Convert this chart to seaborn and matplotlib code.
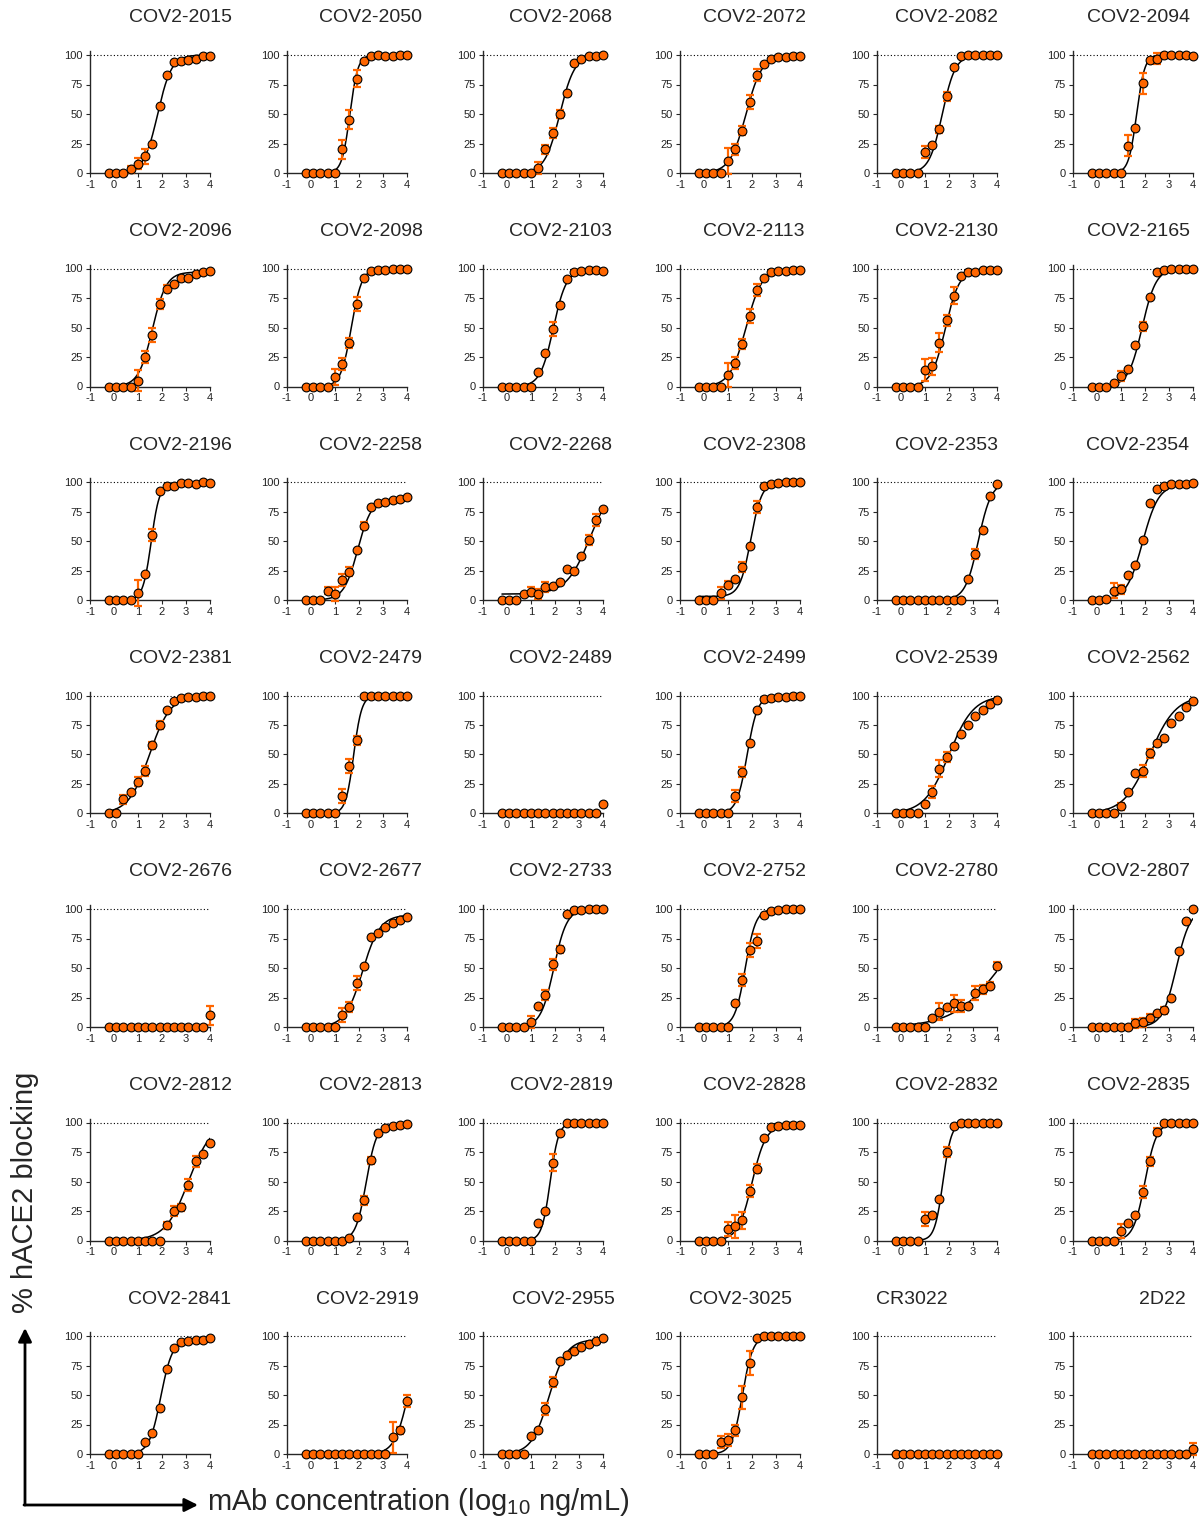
import numpy as np
import pandas as pd
import matplotlib
matplotlib.use('Agg')
import matplotlib.pyplot as plt
from matplotlib.patches import FancyArrowPatch
import seaborn as sns

# названия антител (по порядку панелей)
names = ["COV2-2015", "COV2-2050", "COV2-2068", "COV2-2072", "COV2-2082", "COV2-2094",
         "COV2-2096", "COV2-2098", "COV2-2103", "COV2-2113", "COV2-2130", "COV2-2165",
         "COV2-2196", "COV2-2258", "COV2-2268", "COV2-2308", "COV2-2353", "COV2-2354",
         "COV2-2381", "COV2-2479", "COV2-2489", "COV2-2499", "COV2-2539", "COV2-2562",
         "COV2-2676", "COV2-2677", "COV2-2733", "COV2-2752", "COV2-2780", "COV2-2807",
         "COV2-2812", "COV2-2813", "COV2-2819", "COV2-2828", "COV2-2832", "COV2-2835",
         "COV2-2841", "COV2-2919", "COV2-2955", "COV2-3025", "CR3022", "2D22"]

# концентрации (log10 нг/мл)
log_conc = [-0.21, 0.09, 0.39, 0.69, 1.0, 1.3, 1.6, 1.9, 2.2, 2.5, 2.8, 3.1, 3.4, 3.7, 4.0]

# средние значения блокирования (%)
blocking = [
    [0, 0, 0, 3, 8, 14, 25, 57, 83, 94, 95, 96, 97, 99, 99],
    [0, 0, 0, 0, 0, 20, 45, 80, 95, 99, 100, 99, 99, 100, 100],
    [0, 0, 0, 0, 0, 4, 20, 34, 50, 68, 93, 97, 99, 99, 100],
    [0, 0, 0, 0, 10, 20, 36, 60, 83, 92, 97, 98, 98, 99, 99],
    [0, 0, 0, 0, 18, 24, 37, 65, 90, 99, 100, 100, 100, 100, 100],
    [0, 0, 0, 0, 0, 23, 38, 76, 96, 97, 100, 100, 100, 100, 99],
    [0, 0, 0, 0, 5, 25, 44, 70, 83, 87, 92, 92, 95, 97, 98],
    [0, 0, 0, 0, 8, 19, 37, 70, 92, 98, 99, 99, 100, 100, 100],
    [0, 0, 0, 0, 0, 12, 28, 49, 69, 91, 97, 98, 99, 99, 98],
    [0, 0, 0, 0, 10, 20, 36, 60, 82, 92, 97, 98, 98, 99, 99],
    [0, 0, 0, 0, 14, 17, 37, 56, 77, 94, 97, 97, 99, 99, 99],
    [0, 0, 0, 3, 9, 15, 35, 51, 76, 97, 99, 100, 100, 100, 100],
    [0, 0, 0, 0, 6, 22, 55, 92, 97, 97, 99, 99, 98, 100, 99],
    [0, 0, 0, 8, 5, 17, 24, 42, 63, 79, 82, 83, 85, 86, 87],
    [0, 0, 0, 5, 7, 5, 11, 12, 15, 26, 25, 37, 51, 68, 77],
    [0, 0, 0, 6, 13, 18, 28, 46, 79, 97, 98, 99, 100, 100, 100],
    [0, 0, 0, 0, 0, 0, 0, 0, 0, 0, 18, 39, 59, 88, 98],
    [0, 0, 1, 8, 9, 21, 30, 51, 82, 94, 97, 98, 98, 98, 99],
    [0, 0, 12, 18, 27, 36, 58, 75, 88, 95, 98, 99, 99, 100, 100],
    [0, 0, 0, 0, 0, 15, 40, 62, 100, 100, 100, 100, 100, 100, 100],
    [0, 0, 0, 0, 0, 0, 0, 0, 0, 0, 0, 0, 0, 0, 8],
    [0, 0, 0, 0, 0, 15, 35, 60, 88, 97, 98, 99, 99, 100, 100],
    [0, 0, 0, 0, 8, 18, 38, 48, 57, 67, 75, 83, 88, 93, 96],
    [0, 0, 0, 0, 6, 18, 34, 36, 51, 60, 64, 77, 83, 90, 95],
    [0, 0, 0, 0, 0, 0, 0, 0, 0, 0, 0, 0, 0, 0, 10],
    [0, 0, 0, 0, 0, 10, 17, 37, 52, 76, 80, 85, 88, 91, 93],
    [0, 0, 0, 0, 4, 18, 27, 53, 66, 96, 99, 99, 100, 100, 100],
    [0, 0, 0, 0, 0, 20, 40, 65, 73, 95, 98, 99, 100, 100, 100],
    [0, 0, 0, 0, 0, 8, 13, 17, 20, 18, 18, 29, 32, 35, 52],
    [0, 0, 0, 0, 0, 0, 3, 4, 8, 12, 14, 25, 64, 90, 100],
    [0, 0, 0, 0, 0, 0, 0, 0, 13, 25, 28, 47, 67, 73, 83],
    [0, 0, 0, 0, 0, 0, 2, 20, 34, 68, 91, 95, 97, 98, 99],
    [0, 0, 0, 0, 0, 15, 25, 66, 91, 100, 100, 100, 100, 100, 100],
    [0, 0, 0, 0, 10, 12, 17, 42, 61, 87, 96, 97, 98, 98, 98],
    [0, 0, 0, 0, 18, 22, 35, 75, 97, 100, 100, 100, 100, 100, 100],
    [0, 0, 0, 0, 8, 15, 22, 41, 67, 92, 100, 100, 100, 100, 100],
    [0, 0, 0, 0, 0, 10, 18, 39, 72, 90, 95, 96, 97, 97, 98],
    [0, 0, 0, 0, 0, 0, 0, 0, 0, 0, 0, 0, 14, 20, 45],
    [0, 0, 0, 0, 15, 20, 38, 61, 79, 84, 87, 91, 93, 96, 98],
    [0, 0, 0, 10, 12, 20, 48, 77, 98, 100, 100, 100, 100, 100, 100],
    [0, 0, 0, 0, 0, 0, 0, 0, 0, 0, 0, 0, 0, 0, 0],
    [0, 0, 0, 0, 0, 0, 0, 0, 0, 0, 0, 0, 0, 0, 4],
]

# стандартные отклонения
errors = [
    [0, 0, 0, 3, 5, 6, 0, 0, 0, 0, 0, 0, 0, 0, 0],
    [0, 0, 0, 0, 0, 8, 8, 7, 0, 0, 0, 0, 0, 0, 0],
    [0, 0, 0, 0, 0, 5, 4, 4, 3, 0, 0, 0, 0, 0, 0],
    [0, 0, 0, 0, 11, 5, 4, 6, 5, 0, 0, 0, 0, 0, 0],
    [0, 0, 0, 0, 5, 0, 3, 4, 0, 0, 0, 0, 0, 0, 0],
    [0, 0, 0, 0, 0, 9, 0, 9, 0, 5, 0, 0, 0, 0, 0],
    [0, 0, 0, 0, 9, 5, 6, 4, 3, 0, 0, 0, 0, 0, 0],
    [0, 0, 0, 0, 7, 5, 4, 6, 0, 0, 0, 0, 0, 0, 0],
    [0, 0, 0, 0, 0, 0, 0, 6, 2, 0, 0, 0, 0, 0, 0],
    [0, 0, 0, 0, 10, 5, 4, 6, 5, 0, 0, 0, 0, 0, 0],
    [0, 0, 0, 0, 9, 7, 8, 5, 7, 0, 0, 0, 0, 0, 0],
    [0, 0, 0, 0, 4, 0, 0, 4, 0, 0, 0, 0, 0, 0, 0],
    [0, 0, 0, 0, 11, 0, 5, 0, 0, 0, 0, 0, 0, 0, 0],
    [0, 0, 0, 3, 6, 5, 4, 0, 3, 0, 0, 0, 0, 0, 0],
    [0, 0, 0, 0, 4, 4, 4, 0, 0, 0, 0, 0, 4, 5, 0],
    [0, 0, 0, 5, 3, 0, 4, 0, 5, 0, 0, 0, 0, 0, 0],
    [0, 0, 0, 0, 0, 0, 0, 0, 0, 0, 0, 4, 0, 0, 0],
    [0, 0, 0, 6, 4, 0, 0, 0, 0, 0, 0, 0, 0, 0, 0],
    [0, 0, 4, 0, 4, 4, 3, 3, 0, 0, 0, 0, 0, 0, 0],
    [0, 0, 0, 0, 0, 6, 6, 4, 0, 0, 0, 0, 0, 0, 0],
    [0, 0, 0, 0, 0, 0, 0, 0, 0, 0, 0, 0, 0, 0, 0],
    [0, 0, 0, 0, 0, 5, 4, 0, 0, 0, 0, 0, 0, 0, 0],
    [0, 0, 0, 0, 0, 5, 7, 4, 0, 0, 0, 0, 0, 0, 0],
    [0, 0, 0, 0, 3, 0, 0, 5, 4, 0, 0, 0, 0, 0, 0],
    [0, 0, 0, 0, 0, 0, 0, 0, 0, 0, 0, 0, 0, 0, 8],
    [0, 0, 0, 0, 0, 6, 4, 6, 0, 0, 0, 0, 0, 0, 0],
    [0, 0, 0, 0, 5, 0, 4, 5, 3, 0, 0, 0, 0, 0, 0],
    [0, 0, 0, 0, 0, 0, 5, 6, 6, 0, 0, 0, 0, 0, 0],
    [0, 0, 0, 0, 0, 0, 7, 0, 7, 5, 0, 6, 4, 3, 3],
    [0, 0, 0, 0, 0, 0, 4, 4, 3, 0, 3, 0, 0, 0, 0],
    [0, 0, 0, 0, 0, 0, 0, 0, 3, 4, 3, 5, 5, 0, 0],
    [0, 0, 0, 0, 0, 0, 0, 0, 4, 3, 0, 0, 0, 0, 0],
    [0, 0, 0, 0, 0, 0, 0, 7, 0, 0, 0, 0, 0, 0, 0],
    [0, 0, 0, 0, 6, 10, 7, 5, 4, 0, 0, 0, 0, 0, 0],
    [0, 0, 0, 0, 6, 0, 0, 4, 0, 0, 0, 0, 0, 0, 0],
    [0, 0, 0, 0, 6, 0, 0, 5, 4, 3, 0, 0, 0, 0, 0],
    [0, 0, 0, 0, 0, 0, 0, 0, 0, 0, 0, 0, 0, 0, 0],
    [0, 0, 0, 0, 0, 0, 0, 0, 0, 0, 0, 0, 13, 3, 5],
    [0, 0, 0, 0, 0, 0, 5, 4, 0, 0, 0, 0, 0, 0, 0],
    [0, 0, 0, 5, 5, 5, 10, 10, 0, 0, 0, 0, 0, 0, 0],
    [0, 0, 0, 0, 0, 0, 0, 0, 0, 0, 0, 0, 0, 0, 0],
    [0, 0, 0, 0, 0, 0, 0, 0, 0, 0, 0, 0, 0, 0, 5],
]

# параметры аппроксимации (низ, верх, logEC50, наклон); None - без кривой
fit_bottom = [0, 0, 0, 0, 0, 0, 0, 0, 0, 0, 0, 0, 0, 0, 5, 3, 0, 0, 0, 0, None, 0,
              0, 0, None, 0, 0, 0, 0, 0, 0, 0, 0, 0, 0, 0, 0, 0, 0, 0, None, None]
fit_top = [100, 100, 100, 100, 100, 100, 97, 100, 99, 100, 99, 100, 99, 86, 100, 100,
           100, 98, 100, 100, None, 100, 100, 100, None, 95, 100, 100, 100, 100, 100,
           99, 100, 98, 100, 100, 97, 100, 97, 100, None, None]
fit_ec50 = [1.82, 1.62, 2.2, 1.75, 1.72, 1.65, 1.6, 1.68, 1.93, 1.75, 1.85, 1.88,
            1.55, 1.95, 3.45, 1.95, 3.22, 1.9, 1.48, 1.78, None, 1.8, 2.0, 2.2,
            None, 2.15, 1.95, 1.72, 4.1, 3.3, 3.1, 2.3, 1.8, 2.0, 1.75, 2.0,
            1.95, 4.05, 1.75, 1.6, None, None]
fit_hill = [1.5, 2.6, 1.4, 1.3, 1.6, 2.6, 1.5, 2.0, 1.6, 1.3, 1.5, 1.5,
            2.5, 1.5, 0.9, 1.9, 1.6, 1.3, 1.0, 2.6, None, 2.0, 0.85, 0.8,
            None, 1.2, 1.6, 2.0, 0.45, 1.5, 0.9, 2.0, 2.5, 1.5, 2.5, 1.8,
            1.8, 1.5, 1.2, 2.0, None, None]

ORANGE = '#FF6600'
W, H = 1201, 1519

sns.set_style('ticks')
plt.rcParams['font.family'] = ['Liberation Sans', 'DejaVu Sans']
plt.rcParams['mathtext.fontset'] = 'custom'
plt.rcParams['mathtext.rm'] = 'Liberation Sans'
plt.rcParams['mathtext.it'] = 'Liberation Sans:italic'
plt.rcParams['axes.unicode_minus'] = False

fig = plt.figure(figsize=(W / 100, H / 100), dpi=100)

col_left = [90, 287, 483, 680, 877, 1073]
title_x = [180, 371, 561, 754, 946, 1138]
title_x_last = [180, 367, 563, 740, 912, 1162]
x_fine = np.linspace(log_conc[0], log_conc[-1], 200)

for i, name in enumerate(names):
    r, c = divmod(i, 6)
    y0 = 173 + 213.5 * r          # пиксель нуля
    ytop = y0 - 118 * 1.03        # верх оси
    ax = fig.add_axes([col_left[c] / W, 1 - y0 / H, 120 / W, (y0 - ytop) / H])

    df = pd.DataFrame({'x': log_conc, 'y': blocking[i], 'err': errors[i]})

    # пунктир на 100%
    ax.axhline(100, color='black', ls=(0, (1, 2)), lw=0.8, zorder=1)

    # аппроксимирующая кривая
    if fit_ec50[i] is not None:
        b, t = fit_bottom[i], fit_top[i]
        yc = b + (t - b) / (1 + 10 ** ((fit_ec50[i] - x_fine) * fit_hill[i]))
        sns.lineplot(x=x_fine, y=yc, ax=ax, color='black', lw=1.1, zorder=2)

    # планки погрешностей
    e = df[df['err'] > 0]
    ax.errorbar(e['x'], e['y'], yerr=e['err'], fmt='none', ecolor=ORANGE,
                elinewidth=1.6, capsize=3, capthick=1.6, zorder=3, clip_on=False)

    # точки
    sns.scatterplot(data=df, x='x', y='y', ax=ax, color=ORANGE, edgecolor='black',
                    linewidth=0.8, s=40, zorder=4, clip_on=False)

    ax.set_xlim(-1, 4)
    ax.set_ylim(0, 103)
    ax.set_xticks([-1, 0, 1, 2, 3, 4])
    ax.set_yticks([0, 25, 50, 75, 100])
    ax.set_xlabel('')
    ax.set_ylabel('')
    ax.tick_params(labelsize=8, labelcolor='#222222', length=3, width=0.8,
                   pad=2, direction='out')
    for s in ['left', 'bottom']:
        ax.spines[s].set_linewidth(1.0)
    sns.despine(ax=ax)

    tx = title_x_last[c] if r == 6 else title_x[c]
    fig.text(tx / W, 1 - (18 + 213.5 * r) / H, name, ha='center', va='center',
             fontsize=14)

# подписи осей
fig.text(25 / W, 1 - 1192 / H, '% hACE2 blocking', rotation=90, ha='center',
         va='center', fontsize=21)
fig.text(207 / W, 1 - 1502 / H, 'mAb concentration (log$_{10}$ ng/mL)',
         ha='left', va='center', fontsize=21)

# стрелки
fig.add_artist(FancyArrowPatch((25 / W, 1 - 1505 / H), (25 / W, 1 - 1328 / H),
                               transform=fig.transFigure, arrowstyle='-|>',
                               mutation_scale=20, lw=2, color='black',
                               shrinkA=0, shrinkB=0))
fig.add_artist(FancyArrowPatch((24 / W, 1 - 1505 / H), (198 / W, 1 - 1505 / H),
                               transform=fig.transFigure, arrowstyle='-|>',
                               mutation_scale=20, lw=2, color='black',
                               shrinkA=0, shrinkB=0))

fig.savefig('out.png', dpi=100)
